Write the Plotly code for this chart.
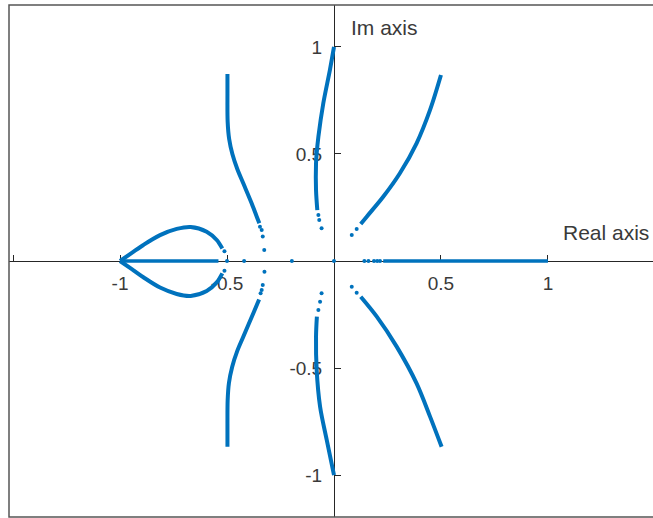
import plotly.graph_objects as go

BLUE = "#0072BD"

# Branches of the locus (dense parts, drawn as lines)
loop_up_x = [-1.0, -0.945, -0.891, -0.813, -0.735, -0.67, -0.595, -0.548, -0.522]
loop_up_y = [0.0, 0.038, 0.075, 0.121, 0.150, 0.159, 0.137, 0.098, 0.058]
loop_dn_x = [-1.0, -0.945, -0.891, -0.813, -0.735, -0.67, -0.595, -0.548, -0.522]
loop_dn_y = [0.0, -0.038, -0.076, -0.124, -0.154, -0.163, -0.140, -0.100, -0.058]

real_left_x = [-1.0, -0.54]
real_left_y = [0.0, 0.0]
real_right_x = [0.23, 1.0]
real_right_y = [0.0, 0.0]

left_up_x = [-0.498, -0.498, -0.497, -0.490, -0.475, -0.452, -0.424, -0.385, -0.361, -0.349]
left_up_y = [0.874, 0.784, 0.650, 0.570, 0.500, 0.430, 0.363, 0.270, 0.207, 0.176]
left_dn_x = [-0.350, -0.377, -0.424, -0.452, -0.476, -0.491, -0.497, -0.498, -0.498]
left_dn_y = [-0.180, -0.244, -0.354, -0.420, -0.495, -0.570, -0.650, -0.760, -0.868]

imag_up_x = [0.0, -0.019, -0.050, -0.073, -0.081, -0.084, -0.084, -0.078]
imag_up_y = [1.0, 0.893, 0.737, 0.581, 0.503, 0.456, 0.332, 0.238]
imag_dn_x = [-0.080, -0.084, -0.081, -0.065, -0.034, 0.0]
imag_dn_y = [-0.260, -0.354, -0.509, -0.681, -0.836, -1.0]

right_up_x = [0.125, 0.153, 0.230, 0.308, 0.386, 0.449, 0.500]
right_up_y = [0.173, 0.207, 0.300, 0.410, 0.550, 0.706, 0.869]
right_dn_x = [0.125, 0.200, 0.293, 0.386, 0.449, 0.503]
right_dn_y = [-0.167, -0.260, -0.400, -0.572, -0.727, -0.868]

# Sparse isolated roots
dots_x = [-0.512, -0.512, -0.5, -0.42, -0.197, 0.0,
          -0.346, -0.338, -0.333, -0.326, -0.343, -0.338, -0.333, -0.325,
          -0.073, -0.069, -0.058, -0.073, -0.065, -0.058,
          0.106, 0.083, 0.106, 0.083,
          0.142, 0.161, 0.187, 0.202, 0.215]
dots_y = [0.045, -0.045, 0.0, 0.0, 0.0, 0.0,
          0.160, 0.145, 0.114, 0.051, -0.151, -0.135, -0.112, -0.050,
          0.215, 0.192, 0.153, -0.229, -0.190, -0.151,
          0.150, 0.121, -0.148, -0.120,
          0.0, 0.0, 0.0, 0.0, 0.0]

branches = [
    (loop_up_x, loop_up_y), (loop_dn_x, loop_dn_y),
    (real_left_x, real_left_y), (real_right_x, real_right_y),
    (left_up_x, left_up_y), (left_dn_x, left_dn_y),
    (imag_up_x, imag_up_y), (imag_dn_x, imag_dn_y),
    (right_up_x, right_up_y), (right_dn_x, right_dn_y),
]

x_ticks = [-1.5, -1, -0.5, 0.5, 1]
x_tick_text = ["", "-1", "-0.5", "0.5", "1"]
y_ticks = [-1, -0.5, 0.5, 1]
y_tick_text = ["-1", "-0.5", "0.5", "1"]

X_RANGE = [-1.519, 1.491]
Y_RANGE = [-1.196, 1.196]

fig = go.Figure()
for bx, by in branches:
    width = 3.5 if len(bx) == 2 else 4
    fig.add_trace(go.Scatter(
        x=bx, y=by, mode="lines",
        line=dict(color=BLUE, width=width, shape="spline", smoothing=0.9),
        hoverinfo="skip", showlegend=False,
    ))
fig.add_trace(go.Scatter(
    x=dots_x, y=dots_y, mode="markers",
    marker=dict(color=BLUE, size=4),
    hoverinfo="skip", showlegend=False,
))

tick_font = dict(family="Liberation Sans, Arial, sans-serif", size=19, color="#3a3a3a")
label_font = dict(family="Liberation Sans, Arial, sans-serif", size=21, color="#3a3a3a")

fig.update_layout(
    width=653, height=518,
    margin=dict(l=9, r=0, t=5, b=1),
    paper_bgcolor="white", plot_bgcolor="white",
    xaxis=dict(
        range=X_RANGE, anchor="free",
        position=(0 - Y_RANGE[0]) / (Y_RANGE[1] - Y_RANGE[0]),
        showline=True, linecolor="#262626", linewidth=1,
        ticks="inside", ticklen=6, tickcolor="#262626",
        tickvals=x_ticks, ticktext=x_tick_text, tickfont=tick_font,
        ticklabelstandoff=5,
        showgrid=False, zeroline=False, layer="below traces", fixedrange=True,
    ),
    yaxis=dict(
        range=Y_RANGE, anchor="free",
        position=(0 - X_RANGE[0]) / (X_RANGE[1] - X_RANGE[0]),
        showline=True, linecolor="#262626", linewidth=1,
        ticks="inside", ticklen=6, tickcolor="#262626",
        tickvals=y_ticks, ticktext=y_tick_text, tickfont=tick_font,
        ticklabelstandoff=8,
        showgrid=False, zeroline=False, layer="below traces", fixedrange=True,
    ),
    shapes=[dict(type="rect", xref="paper", yref="paper", x0=0, x1=1.05, y0=0, y1=1,
                 line=dict(color="#555555", width=1.5), layer="above")],
    annotations=[
        dict(x=0.068, y=1.089, text="Im axis", showarrow=False,
             xanchor="left", yanchor="middle", font=label_font),
        dict(x=1.06, y=0.131, text="Real axis", showarrow=False,
             xanchor="left", yanchor="middle", font=label_font),
    ],
)

fig.write_html("out.html")
